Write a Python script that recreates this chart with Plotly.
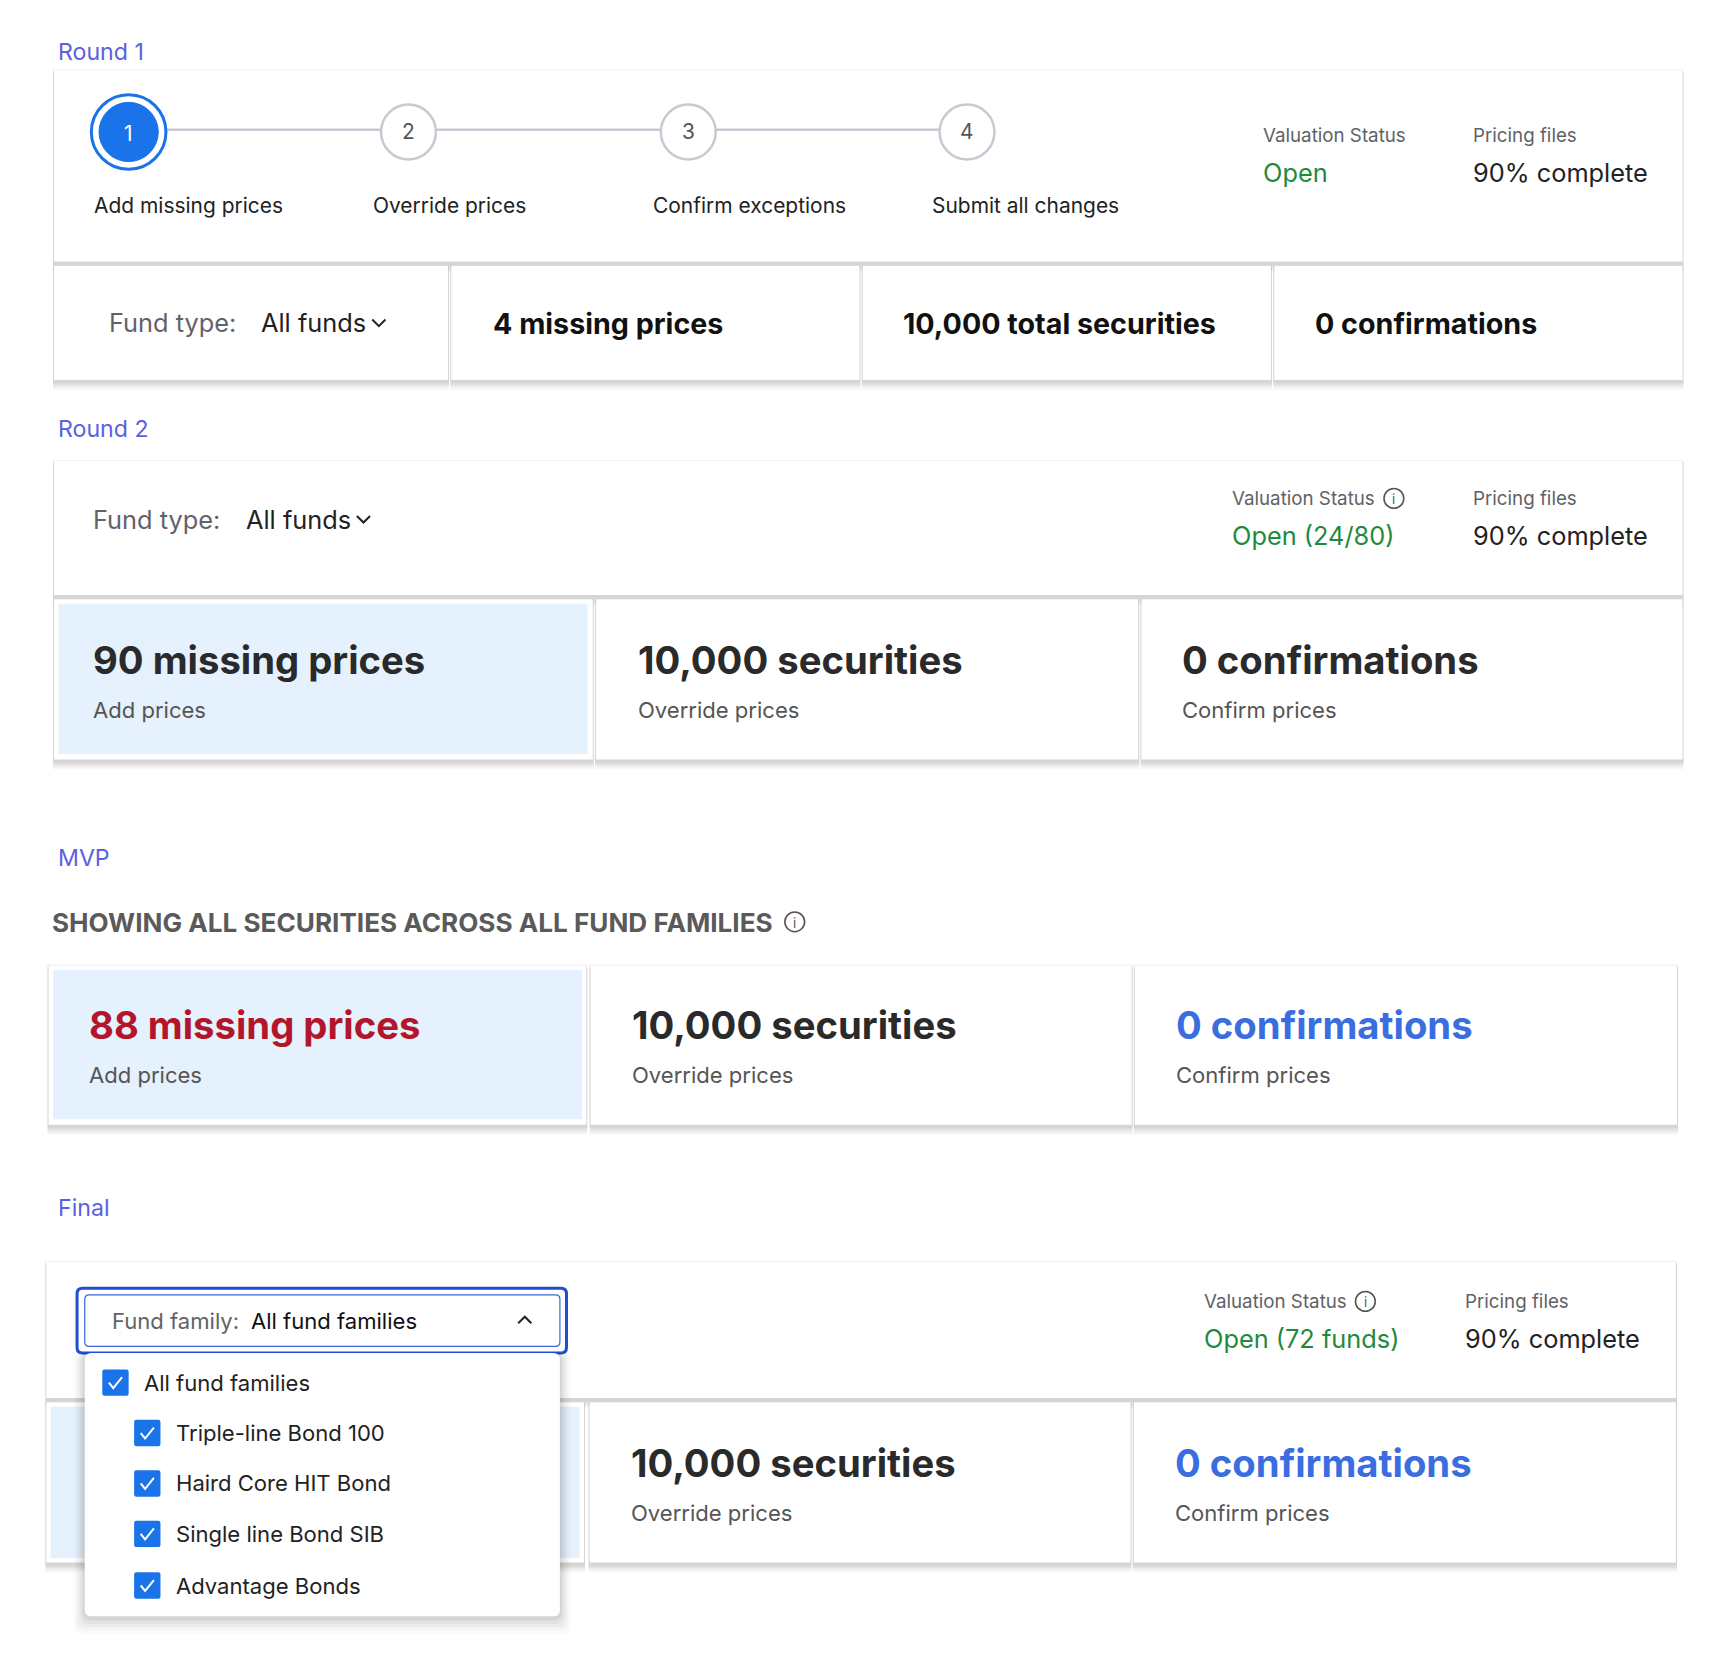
import plotly.graph_objects as go

S = 1720/1560.0
FONT = "Inter"
BLUE = "#1a73e8"; PERI = "#5b5fe3"; GREEN = "#1f8a3d"; DARK = "#222222"; GRAY = "#5f6368"
LIGHTBLUE = "#e5f1fc"; RED = "#b3162b"; LINKBLUE = "#3a6ee0"

section_labels = ["Round 1", "Round 2", "MVP", "Final"]
section_label_y = [47, 391, 782, 1101]
step_numbers = ["1", "2", "3", "4"]
step_labels = ["Add missing prices", "Override prices", "Confirm exceptions", "Submit all changes"]
step_x = [117, 372, 627, 881]
step_label_x = [84, 338, 593, 847]
round1_cells = ["4 missing prices", "10,000 total securities", "0 confirmations"]
round2_titles = ["90 missing prices", "10,000 securities", "0 confirmations"]
mvp_titles = ["88 missing prices", "10,000 securities", "0 confirmations"]
final_titles = ["10,000 securities", "0 confirmations"]
subtitles = ["Add prices", "Override prices", "Confirm prices"]
status_values = ["Open", "Open (24/80)", "Open (72 funds)"]
pricing_value = "90% complete"
fund_families = ["All fund families", "Triple-line Bond 100", "Haird Core HIT Bond", "Single line Bond SIB", "Advantage Bonds"]
mvp_heading = "SHOWING ALL SECURITIES ACROSS ALL FUND FAMILIES"

shapes = []; ann = []

def rect(x0, y0, x1, y1, fill="white", line=None, lw=0, opacity=1):
    shapes.append(dict(type="rect", x0=x0, y0=y0, x1=x1, y1=y1, fillcolor=fill, opacity=opacity,
                       line=dict(color=line or fill, width=lw), layer="below"))

def card(x0, y0, x1, y1):
    for i, op in enumerate([0.05, 0.05, 0.04, 0.03]):
        rect(x0 - 1, y0 - 1 + i, x1 + 1, y1 + 3 + 2 * i, fill="#000000", opacity=op)
    rect(x0, y0, x1, y1, fill="white")

def rrect_path(x0, y0, x1, y1, r):
    return (f"M{x0+r},{y0} L{x1-r},{y0} Q{x1},{y0} {x1},{y0+r} L{x1},{y1-r} Q{x1},{y1} {x1-r},{y1} "
            f"L{x0+r},{y1} Q{x0},{y1} {x0},{y1-r} L{x0},{y0+r} Q{x0},{y0} {x0+r},{y0} Z")

def text(x, y, t, size, color=DARK, bold=False, anchor="left"):
    ann.append(dict(x=x, y=y, text=(f"<b>{t}</b>" if bold else t), showarrow=False, xanchor=anchor,
                    yanchor="middle", font=dict(family=FONT, size=size * S, color=color)))

def info(x, y):
    shapes.append(dict(type="circle", x0=x - 9, y0=y - 9, x1=x + 9, y1=y + 9, line=dict(color="#555", width=1.6)))
    text(x, y + 1, "i", 12, "#555", anchor="center")

def chev(x, y, up=False):
    d = -1 if up else 1
    shapes.append(dict(type="path", path=f"M{x-6},{y-3*d} L{x},{y+3*d} L{x+6},{y-3*d}", line=dict(color=DARK, width=2)))

def status(xv, xp, y1, y2, val, with_info):
    text(xv, y1, "Valuation Status", 17, GRAY)
    if with_info:
        info(xv + 149, y1)
    text(xv, y2, val, 23, GREEN)
    text(xp, y1, "Pricing files", 17, GRAY)
    text(xp, y2, pricing_value, 23, DARK)

for lab, y in zip(section_labels, section_label_y):
    text(51, y, lab, 21, PERI)

# ---- Round 1
card(49, 64, 1533, 238)
for (a, b) in [(49, 408), (411, 783), (786, 1158), (1161, 1533)]:
    card(a, 242, b, 346)
for i in range(3):
    shapes.append(dict(type="line", x0=step_x[i] + (34 if i == 0 else 25), x1=step_x[i + 1] - 25, y0=118, y1=118,
                       line=dict(color="#c8c9d2", width=2.5)))
for i, (sx, n) in enumerate(zip(step_x, step_numbers)):
    if i == 0:
        shapes.append(dict(type="circle", x0=sx-34, y0=120-34, x1=sx+34, y1=120+34, fillcolor="white", line=dict(color=BLUE, width=3)))
        shapes.append(dict(type="circle", x0=sx-27, y0=120-27, x1=sx+27, y1=120+27, fillcolor=BLUE, line=dict(color=BLUE, width=1)))
        text(sx, 121, n, 19, "white", anchor="center")
    else:
        shapes.append(dict(type="circle", x0=sx-25, y0=120-25, x1=sx+25, y1=120+25, fillcolor="white", line=dict(color="#c8c9d2", width=2.5)))
        text(sx, 120, n, 19, "#555", anchor="center")
for lx, l in zip(step_label_x, step_labels):
    text(lx, 187, l, 19, DARK)
status(1149, 1340, 123, 157, status_values[0], False)
text(97, 294, "Fund type:", 23, GRAY)
text(236, 294, "All funds", 23, DARK)
chev(345, 294)
for x, t in zip([447, 821, 1196], round1_cells):
    text(x, 295, t, 26, "#111", bold=True)

# ---- Round 2
card(49, 420, 1533, 542)
text(83, 473, "Fund type:", 23, GRAY)
text(222, 473, "All funds", 23, DARK)
chev(331, 473)
status(1121, 1340, 454, 488, status_values[1], True)
for (a, b) in [(49, 540), (543, 1037), (1040, 1533)]:
    card(a, 546, b, 692)
rect(53, 550, 535, 687, fill=LIGHTBLUE)
for x, t in zip([83, 579, 1075], round2_titles):
    text(x, 601, t, 34.7, "#2a2a2a", bold=True)
for x, t in zip([83, 579, 1075], subtitles):
    text(x, 647, t, 20, "#555")

# ---- MVP
text(45, 841, mvp_heading, 23.7, "#5a5a5a", bold=True)
info(724, 840)
for (a, b) in [(44, 534), (538, 1031), (1034, 1528)]:
    card(a, 880, b, 1025)
rect(48, 884, 530, 1020, fill=LIGHTBLUE)
for x, t, c in zip([79, 574, 1070], mvp_titles, [RED, "#2a2a2a", LINKBLUE]):
    text(x, 934, t, 34.7, c, bold=True)
for x, t in zip([79, 574, 1070], subtitles):
    text(x, 980, t, 20, "#555")

# ---- Final
card(42, 1150, 1527, 1274)
for (a, b) in [(42, 532), (537, 1030), (1033, 1527)]:
    card(a, 1278, b, 1424)
rect(46, 1282, 528, 1420, fill=LIGHTBLUE)
for x, t, c in zip([573, 1069], final_titles, ["#2a2a2a", LINKBLUE]):
    text(x, 1333, t, 34.7, c, bold=True)
for x, t in zip([573, 1069], subtitles[1:]):
    text(x, 1379, t, 20, "#555")
status(1095, 1333, 1186, 1220, status_values[2], True)

# dropdown
shapes.append(dict(type="path", path=rrect_path(70, 1174, 516, 1233, 5), fillcolor="white", line=dict(color="#1f4fd1", width=3)))
shapes.append(dict(type="path", path=rrect_path(77, 1180, 510, 1227, 4), fillcolor="white", line=dict(color="#3d64d8", width=1.2)))
text(100, 1204, "Fund family:", 20, GRAY)
text(227, 1204, fund_families[0], 20, "#111")
chev(478, 1203, up=True)
for i, op in enumerate([0.05, 0.04, 0.03, 0.025, 0.02]):
    shapes.append(dict(type="path", path=rrect_path(77 - 2 - i*2, 1233, 510 + 2 + i*2, 1473 + 4 + i*3, 8), fillcolor="#000", opacity=op, line=dict(width=0)))
shapes.append(dict(type="path", path=rrect_path(77, 1233, 510, 1473, 6), fillcolor="white", line=dict(width=0)))
ys = [1260, 1306, 1352, 1398, 1445]
for i, (y, lab) in enumerate(zip(ys, fund_families)):
    cx = 105 if i == 0 else 134
    shapes.append(dict(type="path", path=rrect_path(cx - 12, y - 12, cx + 12, y + 12, 2), fillcolor=BLUE, line=dict(width=0)))
    shapes.append(dict(type="path", path=f"M{cx-6},{y} L{cx-2},{y+5} L{cx+6},{y-5}", line=dict(color="white", width=2)))
    text(cx + 24, y, lab, 20, DARK)

X0, XW = 7.06, 1567.4
Y0, YH = 6.97, 1511 * 1.0051
fig = go.Figure()
fig.update_layout(width=1720, height=1666, margin=dict(l=0, r=0, t=0, b=0), plot_bgcolor="white", paper_bgcolor="white",
                  shapes=shapes, annotations=ann, showlegend=False,
                  xaxis=dict(range=[X0, X0 + XW], visible=False, fixedrange=True),
                  yaxis=dict(range=[Y0 + YH, Y0], visible=False, fixedrange=True))
fig.write_html("out.html")
